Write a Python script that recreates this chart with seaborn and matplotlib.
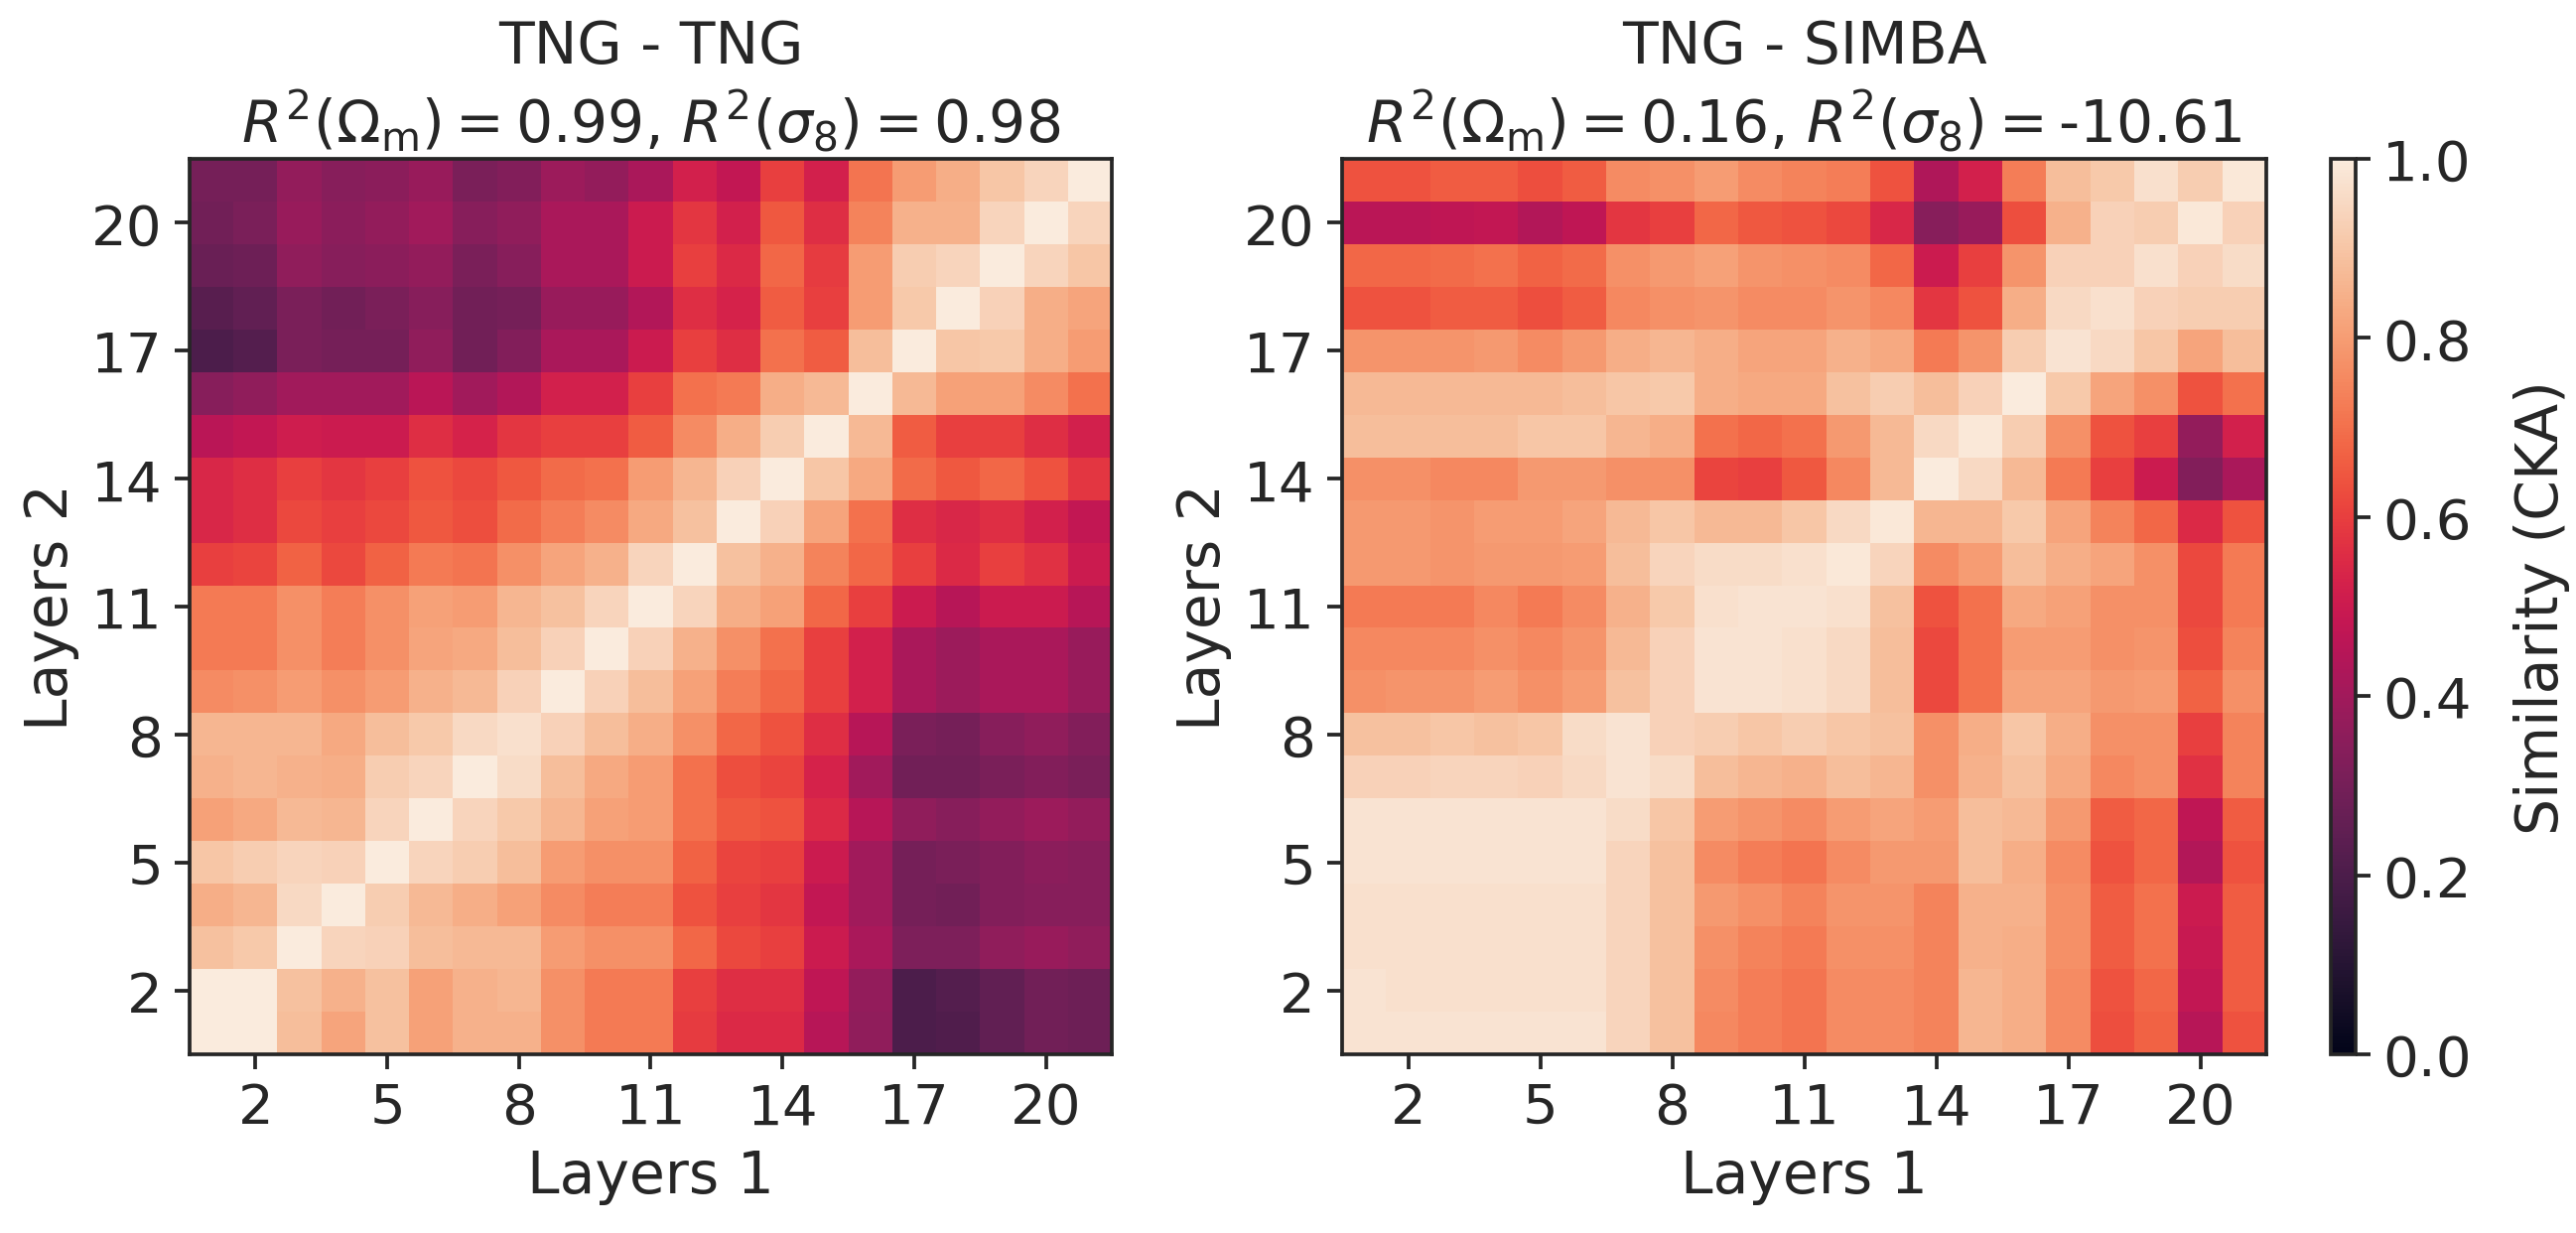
import numpy as np
import pandas as pd
import matplotlib
matplotlib.use("Agg")
import matplotlib.pyplot as plt
import seaborn as sns

# ---------------- data ----------------
layers = list(range(1, 22))
tick_layers = [2, 5, 8, 11, 14, 17, 20]

# rows: "Layers 2" from 21 (top) down to 1 (bottom); columns: "Layers 1" 1..21
tng_tng = [
    [0.30, 0.30, 0.37, 0.34, 0.35, 0.38, 0.31, 0.33, 0.39, 0.37, 0.42, 0.52, 0.48, 0.60, 0.52, 0.71, 0.80, 0.84, 0.90, 0.94, 1.00],
    [0.29, 0.31, 0.38, 0.35, 0.37, 0.40, 0.34, 0.36, 0.42, 0.42, 0.50, 0.58, 0.52, 0.65, 0.56, 0.74, 0.85, 0.85, 0.94, 1.00, 0.94],
    [0.27, 0.28, 0.36, 0.34, 0.35, 0.37, 0.31, 0.34, 0.42, 0.42, 0.50, 0.60, 0.55, 0.68, 0.59, 0.80, 0.92, 0.94, 1.00, 0.94, 0.90],
    [0.23, 0.25, 0.31, 0.29, 0.31, 0.34, 0.29, 0.30, 0.38, 0.38, 0.44, 0.56, 0.53, 0.66, 0.60, 0.80, 0.91, 1.00, 0.93, 0.84, 0.82],
    [0.20, 0.22, 0.31, 0.30, 0.30, 0.36, 0.29, 0.33, 0.42, 0.42, 0.50, 0.60, 0.56, 0.70, 0.66, 0.88, 1.00, 0.90, 0.91, 0.84, 0.80],
    [0.34, 0.36, 0.40, 0.40, 0.40, 0.46, 0.40, 0.44, 0.52, 0.52, 0.60, 0.70, 0.72, 0.84, 0.87, 1.00, 0.87, 0.81, 0.81, 0.76, 0.70],
    [0.46, 0.48, 0.51, 0.50, 0.50, 0.56, 0.53, 0.58, 0.60, 0.60, 0.66, 0.76, 0.84, 0.92, 1.00, 0.87, 0.66, 0.60, 0.60, 0.56, 0.52],
    [0.54, 0.56, 0.60, 0.58, 0.60, 0.64, 0.62, 0.65, 0.69, 0.70, 0.80, 0.86, 0.93, 1.00, 0.90, 0.83, 0.69, 0.65, 0.68, 0.64, 0.58],
    [0.54, 0.56, 0.62, 0.60, 0.62, 0.65, 0.63, 0.69, 0.73, 0.76, 0.83, 0.89, 1.00, 0.93, 0.82, 0.70, 0.56, 0.54, 0.56, 0.52, 0.48],
    [0.60, 0.61, 0.67, 0.62, 0.67, 0.72, 0.71, 0.77, 0.82, 0.85, 0.94, 1.00, 0.89, 0.85, 0.74, 0.68, 0.60, 0.55, 0.60, 0.57, 0.50],
    [0.72, 0.72, 0.77, 0.73, 0.77, 0.81, 0.80, 0.86, 0.89, 0.94, 1.00, 0.94, 0.84, 0.81, 0.68, 0.60, 0.50, 0.45, 0.50, 0.50, 0.45],
    [0.72, 0.72, 0.77, 0.73, 0.77, 0.82, 0.83, 0.88, 0.93, 1.00, 0.93, 0.85, 0.77, 0.70, 0.60, 0.52, 0.42, 0.39, 0.42, 0.42, 0.38],
    [0.76, 0.77, 0.80, 0.77, 0.80, 0.85, 0.87, 0.93, 1.00, 0.93, 0.88, 0.81, 0.73, 0.68, 0.60, 0.52, 0.42, 0.39, 0.42, 0.42, 0.38],
    [0.86, 0.86, 0.86, 0.83, 0.88, 0.91, 0.95, 0.97, 0.93, 0.88, 0.84, 0.77, 0.68, 0.64, 0.56, 0.45, 0.31, 0.30, 0.34, 0.36, 0.33],
    [0.85, 0.86, 0.85, 0.84, 0.92, 0.94, 1.00, 0.96, 0.88, 0.83, 0.80, 0.70, 0.63, 0.61, 0.53, 0.40, 0.29, 0.29, 0.31, 0.33, 0.31],
    [0.81, 0.83, 0.87, 0.86, 0.94, 1.00, 0.94, 0.91, 0.86, 0.81, 0.80, 0.70, 0.65, 0.64, 0.55, 0.45, 0.36, 0.34, 0.37, 0.39, 0.37],
    [0.90, 0.92, 0.94, 0.93, 1.00, 0.94, 0.92, 0.88, 0.80, 0.77, 0.77, 0.67, 0.61, 0.60, 0.50, 0.40, 0.30, 0.31, 0.33, 0.35, 0.34],
    [0.84, 0.86, 0.95, 1.00, 0.92, 0.87, 0.84, 0.81, 0.76, 0.73, 0.73, 0.64, 0.60, 0.58, 0.48, 0.40, 0.30, 0.29, 0.33, 0.34, 0.34],
    [0.89, 0.91, 1.00, 0.94, 0.93, 0.88, 0.87, 0.87, 0.80, 0.77, 0.77, 0.68, 0.62, 0.60, 0.50, 0.42, 0.32, 0.32, 0.36, 0.38, 0.36],
    [1.00, 1.00, 0.89, 0.85, 0.89, 0.81, 0.85, 0.86, 0.77, 0.72, 0.72, 0.60, 0.56, 0.56, 0.47, 0.37, 0.20, 0.22, 0.25, 0.29, 0.28],
    [1.00, 1.00, 0.88, 0.82, 0.89, 0.81, 0.85, 0.85, 0.77, 0.72, 0.72, 0.59, 0.55, 0.55, 0.45, 0.36, 0.20, 0.21, 0.25, 0.29, 0.28],
]

tng_simba = [
    [0.64, 0.64, 0.66, 0.66, 0.63, 0.66, 0.76, 0.77, 0.80, 0.76, 0.74, 0.73, 0.64, 0.43, 0.52, 0.73, 0.88, 0.91, 0.97, 0.92, 0.99],
    [0.46, 0.46, 0.47, 0.48, 0.44, 0.47, 0.58, 0.60, 0.68, 0.65, 0.64, 0.62, 0.54, 0.34, 0.38, 0.63, 0.85, 0.93, 0.92, 0.99, 0.93],
    [0.68, 0.68, 0.69, 0.70, 0.67, 0.69, 0.77, 0.79, 0.81, 0.78, 0.77, 0.76, 0.68, 0.50, 0.60, 0.78, 0.93, 0.93, 0.97, 0.93, 0.96],
    [0.64, 0.64, 0.66, 0.66, 0.63, 0.66, 0.75, 0.77, 0.78, 0.76, 0.76, 0.78, 0.75, 0.58, 0.64, 0.84, 0.95, 0.97, 0.93, 0.92, 0.92],
    [0.78, 0.78, 0.78, 0.79, 0.76, 0.79, 0.84, 0.86, 0.84, 0.82, 0.82, 0.85, 0.83, 0.72, 0.78, 0.92, 0.98, 0.95, 0.90, 0.82, 0.88],
    [0.87, 0.87, 0.87, 0.87, 0.87, 0.88, 0.90, 0.91, 0.84, 0.83, 0.83, 0.89, 0.92, 0.88, 0.93, 1.00, 0.91, 0.82, 0.77, 0.64, 0.70],
    [0.88, 0.88, 0.88, 0.88, 0.90, 0.90, 0.86, 0.84, 0.70, 0.68, 0.70, 0.79, 0.87, 0.95, 0.99, 0.92, 0.77, 0.64, 0.60, 0.37, 0.52],
    [0.77, 0.77, 0.75, 0.75, 0.79, 0.79, 0.77, 0.77, 0.61, 0.60, 0.65, 0.75, 0.87, 1.00, 0.95, 0.87, 0.72, 0.60, 0.50, 0.33, 0.42],
    [0.79, 0.79, 0.78, 0.80, 0.80, 0.82, 0.87, 0.90, 0.87, 0.87, 0.90, 0.95, 0.99, 0.86, 0.86, 0.91, 0.82, 0.74, 0.68, 0.55, 0.64],
    [0.79, 0.79, 0.78, 0.79, 0.79, 0.80, 0.88, 0.94, 0.96, 0.96, 0.97, 0.99, 0.94, 0.76, 0.80, 0.88, 0.84, 0.82, 0.77, 0.62, 0.72],
    [0.72, 0.72, 0.72, 0.75, 0.72, 0.76, 0.85, 0.91, 0.97, 0.98, 0.98, 0.97, 0.89, 0.64, 0.70, 0.83, 0.81, 0.77, 0.77, 0.62, 0.72],
    [0.75, 0.75, 0.75, 0.77, 0.75, 0.78, 0.87, 0.93, 0.98, 0.98, 0.97, 0.95, 0.88, 0.62, 0.70, 0.80, 0.80, 0.77, 0.78, 0.63, 0.74],
    [0.77, 0.78, 0.78, 0.80, 0.77, 0.80, 0.89, 0.93, 0.98, 0.98, 0.97, 0.95, 0.88, 0.62, 0.70, 0.82, 0.82, 0.79, 0.80, 0.67, 0.77],
    [0.89, 0.89, 0.90, 0.89, 0.90, 0.96, 0.98, 0.93, 0.92, 0.90, 0.92, 0.90, 0.89, 0.77, 0.84, 0.90, 0.84, 0.77, 0.77, 0.60, 0.74],
    [0.93, 0.93, 0.94, 0.94, 0.93, 0.95, 0.98, 0.96, 0.88, 0.86, 0.85, 0.88, 0.86, 0.77, 0.85, 0.89, 0.83, 0.75, 0.77, 0.57, 0.74],
    [0.98, 0.98, 0.98, 0.98, 0.98, 0.98, 0.96, 0.90, 0.80, 0.78, 0.76, 0.80, 0.82, 0.80, 0.88, 0.87, 0.79, 0.66, 0.68, 0.47, 0.66],
    [0.98, 0.98, 0.98, 0.98, 0.98, 0.98, 0.94, 0.89, 0.76, 0.73, 0.71, 0.76, 0.79, 0.79, 0.88, 0.84, 0.76, 0.64, 0.68, 0.44, 0.64],
    [0.97, 0.97, 0.97, 0.97, 0.97, 0.97, 0.94, 0.89, 0.79, 0.77, 0.74, 0.78, 0.78, 0.74, 0.85, 0.85, 0.77, 0.66, 0.70, 0.50, 0.66],
    [0.97, 0.97, 0.97, 0.97, 0.97, 0.97, 0.94, 0.89, 0.77, 0.74, 0.72, 0.77, 0.77, 0.74, 0.85, 0.84, 0.77, 0.66, 0.70, 0.49, 0.66],
    [0.98, 0.97, 0.97, 0.97, 0.97, 0.97, 0.94, 0.89, 0.76, 0.73, 0.71, 0.76, 0.76, 0.74, 0.86, 0.84, 0.76, 0.64, 0.68, 0.48, 0.66],
    [0.98, 0.98, 0.98, 0.98, 0.98, 0.98, 0.94, 0.89, 0.75, 0.73, 0.71, 0.76, 0.76, 0.74, 0.86, 0.84, 0.76, 0.63, 0.67, 0.45, 0.64],
]

panel_names = ["TNG - TNG", "TNG - SIMBA"]
r2_omega = ["0.99", "0.16"]
r2_sigma = ["0.98", "-10.61"]

# ---------------- style ----------------
sns.set_theme(style="ticks")
dark = "#262626"
plt.rcParams.update({
    "font.family": ["DejaVu Sans"],
    "font.size": 14,
    "axes.titlesize": 14,
    "axes.labelsize": 14,
    "xtick.labelsize": 13.5,
    "ytick.labelsize": 13.5,
    "text.color": dark,
    "axes.labelcolor": dark,
    "xtick.color": dark,
    "ytick.color": dark,
    "axes.edgecolor": dark,
    "mathtext.fontset": "dejavusans",
})

fig = plt.figure(figsize=(8.65, 4.1433), dpi=300)
ax_l = fig.add_axes([0.0736, 0.1448, 0.3580, 0.7257])
ax_r = fig.add_axes([0.5210, 0.1448, 0.3588, 0.7257])
cax = fig.add_axes([0.9050, 0.1448, 0.0095, 0.7257])

for k, (ax, mat) in enumerate(zip([ax_l, ax_r], [tng_tng, tng_simba])):
    df = pd.DataFrame(mat, index=layers[::-1], columns=layers)
    last = (k == 1)
    sns.heatmap(df, ax=ax, cmap="rocket", vmin=0, vmax=1,
                cbar=last, cbar_ax=cax if last else None,
                xticklabels=False, yticklabels=False)
    xpos = [layers.index(t) + 0.5 for t in tick_layers]
    ypos = [layers[::-1].index(t) + 0.5 for t in tick_layers]
    ax.set_xticks(xpos)
    ax.set_xticklabels([str(t) for t in tick_layers], rotation=0)
    ax.set_yticks(ypos)
    ax.set_yticklabels([str(t) for t in tick_layers], rotation=0)
    ax.tick_params(axis="both", length=3.5, width=0.9, pad=3, direction="out",
                   bottom=True, left=True)
    for s in ax.spines.values():
        s.set_visible(True)
        s.set_linewidth(0.9)
        s.set_color(dark)
    ax.set_xlabel("Layers 1", labelpad=3)
    ax.set_ylabel("Layers 2", labelpad=3)
    title = (panel_names[k] + "\n"
             + r"$R^2(\Omega_\mathrm{m}) =$" + r2_omega[k]
             + r", $R^2(\sigma_8) =$" + r2_sigma[k])
    ax.set_title(title, pad=4, linespacing=1.25)

cb = ax_r.collections[0].colorbar
cb.outline.set_visible(True)
cb.outline.set_linewidth(0.9)
cb.outline.set_edgecolor(dark)
cb.set_ticks([0.0, 0.2, 0.4, 0.6, 0.8, 1.0])
cb.set_ticklabels(["0.0", "0.2", "0.4", "0.6", "0.8", "1.0"])
cb.ax.tick_params(length=3.5, width=0.9, labelsize=13.5, pad=3)
cb.set_label("Similarity (CKA)", labelpad=10, fontsize=14)

fig.savefig("out.png", dpi=300)
